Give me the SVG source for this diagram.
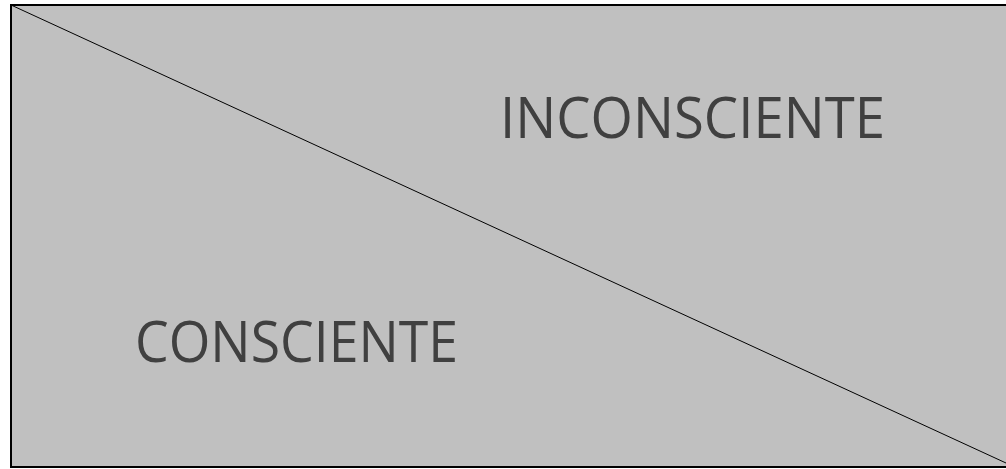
<svg xmlns="http://www.w3.org/2000/svg" width="1006" height="469" viewBox="0 0 1006 469">
<style>
.lbl{font-family:"Open Sans","Liberation Sans",sans-serif;font-size:56px;fill:#404040}
</style>
<rect width="1006" height="469" fill="#ffffff"/>
<g id="area">
<rect x="11" y="5" width="1010" height="462" fill="#c0c0c0" stroke="#000000" stroke-width="2"/>
</g>
<g id="connectors">
<line x1="11" y1="5" x2="1006" y2="463" stroke="#000000" stroke-width="1"/>
</g>
<g id="inconsciente">
<text class="lbl" x="500" y="138" textLength="385" lengthAdjust="spacingAndGlyphs">INCONSCIENTE</text>
</g>
<g id="consciente">
<text class="lbl" x="135" y="362" textLength="323" lengthAdjust="spacingAndGlyphs">CONSCIENTE</text>
</g>
</svg>
